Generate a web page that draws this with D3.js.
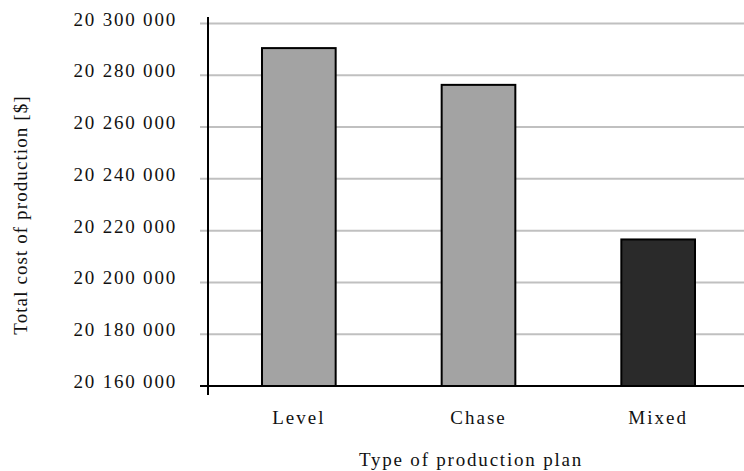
<html>
<head>
<script src="https://d3js.org/d3.v7.min.js"></script>
<style>
body { margin: 0; background: #fff; }
text { font-family: 'Liberation Serif', 'Times New Roman', serif; fill: #111; }
</style>
</head>
<body>
<div id="chart"></div>
<script>
var categories = ["Level", "Chase", "Mixed"];
var costs = [20290500, 20276300, 20216600];
var barColors = ["#a3a3a3", "#a3a3a3", "#2a2a2a"];
var tickValues = [20160000, 20180000, 20200000, 20220000, 20240000, 20260000, 20280000, 20300000];

var W = 744, H = 471;
var plotLeft = 208, plotTop = 23.5, plotRight = 748, plotBottom = 386;

var svg = d3.select("#chart").append("svg")
  .attr("width", W).attr("height", H);

var x = d3.scaleBand().domain(categories).range([plotLeft + 1, plotRight]).paddingInner(0.59).paddingOuter(0.295);
var y = d3.scaleLinear().domain([20160000, 20300000]).range([plotBottom, plotTop]);

function fmt(v) {
  return d3.format(",")(v).replace(/,/g, " ");
}

// gridlines (start a little left of the axis, like tick marks)
svg.append("g").selectAll("line")
  .data(tickValues.slice(1))
  .enter().append("line")
  .attr("x1", 200).attr("x2", W)
  .attr("y1", function(d) { return y(d); })
  .attr("y2", function(d) { return y(d); })
  .attr("stroke", "#c0c0c0").attr("stroke-width", 2);

// tick labels
svg.append("g").selectAll("text")
  .data(tickValues)
  .enter().append("text")
  .attr("x", 177)
  .attr("y", function(d) { return y(d) + 2; })
  .attr("text-anchor", "end")
  .style("font-size", "19px")
  .style("letter-spacing", "1.8px")
  .text(fmt);

// bars
svg.append("g").selectAll("rect")
  .data(costs)
  .enter().append("rect")
  .attr("x", function(d, i) { return x(categories[i]); })
  .attr("y", function(d) { return y(d); })
  .attr("width", x.bandwidth())
  .attr("height", function(d) { return plotBottom - y(d); })
  .attr("fill", function(d, i) { return barColors[i]; })
  .attr("stroke", "#000").attr("stroke-width", 2);

// axis lines
svg.append("line").attr("x1", 200).attr("x2", W).attr("y1", plotBottom).attr("y2", plotBottom)
  .attr("stroke", "#000").attr("stroke-width", 2);
svg.append("line").attr("x1", plotLeft).attr("x2", plotLeft).attr("y1", 17).attr("y2", 395)
  .attr("stroke", "#000").attr("stroke-width", 2);

// category labels
svg.append("g").selectAll("text")
  .data(categories)
  .enter().append("text")
  .attr("x", function(d) { return x(d) + x.bandwidth() / 2; })
  .attr("y", 424)
  .attr("text-anchor", "middle")
  .style("font-size", "19px")
  .style("letter-spacing", "2px")
  .text(function(d) { return d; });

// axis titles
svg.append("text")
  .attr("x", 471).attr("y", 466)
  .attr("text-anchor", "middle")
  .style("font-size", "19px")
  .style("letter-spacing", "1.8px")
  .text("Type of production plan");

svg.append("text")
  .attr("transform", "translate(27,215) rotate(-90)")
  .attr("text-anchor", "middle")
  .style("font-size", "19px")
  .style("letter-spacing", "1.1px")
  .text("Total cost of production [$]");
</script>
</body>
</html>
